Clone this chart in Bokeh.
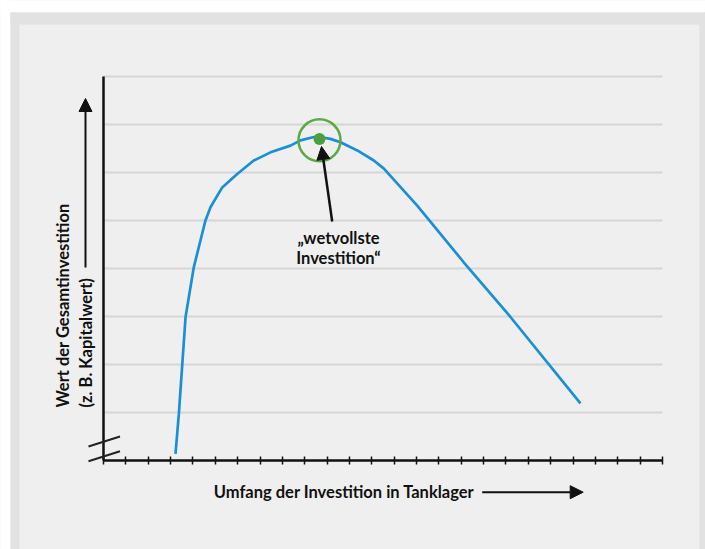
from math import pi
from bokeh.plotting import figure
from bokeh.models import (FixedTicker, Label, Arrow, NormalHead, BoxAnnotation, Range1d)
from bokeh.embed import file_html
from bokeh.resources import INLINE

# ---- data ----
curve_x = [3.22, 3.37, 3.52, 3.67, 4.04, 4.56, 4.79, 5.31, 5.98, 6.72, 7.47, 8.36,
           8.81, 9.41, 9.65, 10.15, 10.6, 11.35, 12.09, 12.54, 14.03, 16.11, 18.2, 21.33]
curve_y = [0.14, 0.97, 1.98, 2.99, 4.03, 5.0, 5.28, 5.69, 5.97, 6.25, 6.42, 6.56,
           6.67, 6.74, 6.74, 6.70, 6.63, 6.46, 6.25, 6.08, 5.31, 4.13, 2.99, 1.19]
peak_x = [9.66]
peak_y = [6.70]
x_ticks = list(range(0, 26))
y_grid = [1, 2, 3, 4, 5, 6, 7, 8]

x_title = "Umfang der Investition in Tanklager"
y_title_1 = "Wert der Gesamtinvestition"
y_title_2 = "(z. B. Kapitalwert)"
note_1 = "\u201ewetvollste"
note_2 = "Investition\u201c"

FONT = "Lato"
FS = "16.5px"
PANEL = "#efefef"
BAND = "#e2e2e2"
INK = "#111111"

W, H = 705, 549
# pixel-position helpers for decorations (page px -> data units)
X0, XS = 103.0, 22.36
Y0, YS = 460.0, 48.0
def px(v): return (v - X0) / XS
def py(v): return (Y0 - v) / YS

p = figure(width=W, height=H, output_backend="svg", toolbar_location=None,
           x_range=Range1d(px(0), px(W)), y_range=Range1d(py(H), py(0)),
           min_border=0, background_fill_color=PANEL, border_fill_color=PANEL,
           outline_line_color=None)

# outer frame bands
def band(l, r, t, b, c):
    p.add_layout(BoxAnnotation(left=px(l), right=px(r), top=py(t), bottom=py(b),
                               fill_color=c, fill_alpha=1, line_color=None, level="underlay"))

band(-5, W + 5, -5, 12, "white")
band(-5, 10, -5, H + 5, "white")
band(10, W + 5, 12, 24, BAND)
band(10, 19, 12, H + 5, BAND)
band(699, W + 5, 12, H + 5, BAND)

# axes (drawn at the data origin inside the frame), tick labels blanked
xa = p.xaxis[0]
xa.fixed_location = 0
xa.bounds = (x_ticks[0], x_ticks[-1])
xa.ticker = FixedTicker(ticks=x_ticks)
xa.major_label_overrides = {t: "" for t in x_ticks}
xa.minor_tick_line_color = None
xa.axis_line_width = 2.5
xa.axis_line_color = INK
xa.major_tick_in = 4
xa.major_tick_out = 4
xa.major_tick_line_width = 1.5
xa.major_tick_line_color = INK

ya = p.yaxis[0]
ya.fixed_location = 0
ya.bounds = (0, y_grid[-1])
ya.ticker = FixedTicker(ticks=y_grid)
ya.major_label_overrides = {t: "" for t in y_grid}
ya.minor_tick_line_color = None
ya.major_tick_line_color = None
ya.axis_line_width = 2.5
ya.axis_line_color = INK

p.xgrid.visible = False
p.ygrid.visible = False

# horizontal grid lines limited to the axis extent
p.segment(x0=x_ticks[0], y0=y_grid, x1=x_ticks[-1], y1=y_grid,
          line_color="#d6d6d6", line_width=2)

# curve
p.line(curve_x, curve_y, line_color="#1a8fd6", line_width=2.7)

# peak marker
p.scatter(peak_x, [peak_y[0] - 0.03], size=42, marker="circle", fill_color=None,
          line_color="#5da943", line_width=2.5)
p.scatter(peak_x, peak_y, size=12, marker="circle", fill_color="#4b9f3c", line_color=None)

# annotation arrow + text
p.add_layout(Arrow(end=NormalHead(size=13, fill_color=INK, line_color=INK),
                   x_start=px(331.7), y_start=py(221), x_end=px(321), y_end=py(146),
                   line_width=2.5, line_color=INK))
for txt, yy in [(note_1, 237), (note_2, 257)]:
    p.add_layout(Label(x=px(338), y=py(yy), text=txt, text_align="center",
                       text_baseline="middle", text_font=FONT, text_font_style="bold",
                       text_font_size=FS, text_color=INK))

# axis break marks
for y0, y1 in [(446, 436), (460.7, 450.7)]:
    p.add_layout(Arrow(end=None, x_start=px(88), y_start=py(y0), x_end=px(119.5), y_end=py(y1),
                       line_width=2, line_color="#222222"))

# x title and arrow
p.add_layout(Label(x=px(213.3), y=py(491.7), text=x_title, text_align="left",
                   text_baseline="middle", text_font=FONT, text_font_style="bold",
                   text_font_size=FS, text_color=INK))
p.add_layout(Arrow(end=NormalHead(size=13, fill_color=INK, line_color=INK),
                   x_start=px(481.7), y_start=py(491.7), x_end=px(582.7), y_end=py(491.7),
                   line_width=2, line_color=INK))

# y titles and arrow
for txt, xx in [(y_title_1, 62), (y_title_2, 85)]:
    p.add_layout(Label(x=px(xx), y=py(407), text=txt, angle=pi / 2, text_align="left",
                       text_baseline="middle", text_font=FONT, text_font_style="bold",
                       text_font_size=FS, text_color=INK))
p.add_layout(Arrow(end=NormalHead(size=13, fill_color=INK, line_color=INK),
                   x_start=px(85), y_start=py(267), x_end=px(85), y_end=py(98),
                   line_width=2, line_color=INK))

open("out.html", "w").write(file_html(p, INLINE))
